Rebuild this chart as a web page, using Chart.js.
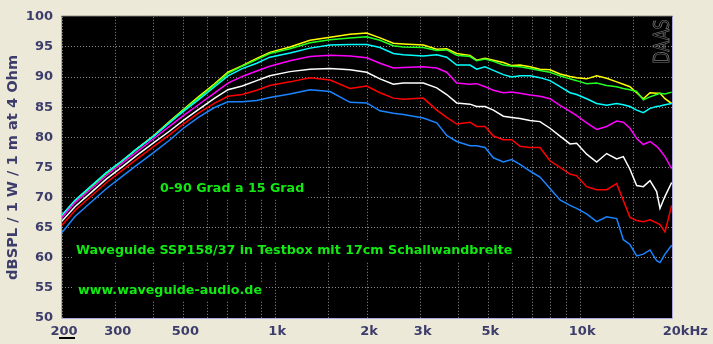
<!DOCTYPE html>
<html>
<head>
<meta charset="utf-8">
<script src="https://cdn.jsdelivr.net/npm/chart.js@4.4.1/dist/chart.umd.min.js"></script>
<style>
  html, body { margin: 0; padding: 0; background: #ece9d8; }
  #wrap { width: 713px; height: 344px; }
  canvas { display: block; }
</style>
</head>
<body>
<div id="wrap"><canvas id="c" width="713" height="344"></canvas></div>
<script>
// ---------- data ----------
const freqs = [200,221,250,280,315,350,400,450,500,560,630,700,780,870,960,
  1118,1301,1513,1759,1995,2206,2440,2630,3060,3386,3650,3937,4352,
  4577,4875,5193,5598,5964,6348,6845,7381,7962,8588,9261,9737,10502,11325,12213,13172,13850,14562,15316,16107,16942,17812,18266,18970,19950];

const deg0 = [67.0,69.5,71.9,74.1,76.1,78.0,80.3,82.6,84.6,86.7,88.8,90.8,91.9,93.1,94.1,
  95.0,96.1,96.6,97.1,97.3,96.5,95.6,95.5,95.3,94.6,94.7,93.9,93.6,
  92.8,93.1,92.8,92.4,91.9,92.0,91.7,91.3,91.2,90.5,90.1,89.9,89.7,90.2,89.8,89.2,88.8,88.4,87.4,86.4,87.4,87.3,87.3,86.4,85.6];
const deg15 = [66.8,69.3,71.8,74.0,76.0,77.9,80.2,82.5,84.5,86.5,88.6,90.6,91.8,92.9,93.9,
  94.7,95.7,96.2,96.5,96.7,96.1,95.2,95.0,94.9,94.4,94.5,93.6,93.4,
  92.7,93.0,92.6,92.0,91.8,91.7,91.4,91.1,90.8,90.2,89.7,89.4,88.9,89.0,88.6,88.4,88.1,87.9,87.6,86.2,86.7,87.1,87.3,87.2,87.5];
const deg30 = [67.1,69.6,72.0,74.2,76.1,78.0,80.2,82.4,84.3,86.2,88.3,90.2,91.4,92.3,93.3,
  94.0,94.8,95.3,95.4,95.4,94.9,93.9,93.7,93.5,93.7,93.3,92.0,92.0,
  91.3,91.7,91.1,90.4,90.0,90.2,90.2,89.9,89.4,88.4,87.4,87.1,86.4,85.6,85.3,85.6,85.4,85.1,84.5,84.1,84.8,85.1,85.2,85.4,85.6];
const deg45 = [66.7,69.2,71.5,73.7,75.7,77.5,79.8,81.8,83.6,85.4,87.3,89.0,90.1,91.0,91.8,
  92.7,93.4,93.6,93.5,93.2,92.3,91.5,91.6,91.7,91.5,90.8,89.0,88.8,
  88.9,88.4,87.8,87.4,87.5,87.3,87.0,86.8,86.4,85.3,84.3,83.6,82.4,81.3,81.8,82.7,82.5,81.5,79.8,78.8,79.3,78.5,77.9,76.8,74.8];
const deg60 = [66.1,68.5,70.9,73.1,75.1,76.9,79.1,81.0,82.8,84.6,86.4,87.9,88.5,89.4,90.2,
  90.9,91.3,91.4,91.2,90.8,89.7,88.8,89.0,89.0,88.2,87.1,85.7,85.5,
  85.1,85.1,84.5,83.5,83.3,83.1,82.8,82.6,81.5,80.2,78.9,79.0,77.2,75.9,77.3,76.4,76.8,74.7,72.0,71.8,72.8,71.0,68.2,70.2,72.5];
const deg75 = [65.4,67.9,70.3,72.5,74.5,76.3,78.5,80.4,82.2,84.0,85.6,86.8,87.1,87.8,88.6,
  89.2,89.9,89.5,88.1,88.5,87.4,86.5,86.3,86.5,84.5,83.3,82.2,82.5,
  81.8,81.8,80.2,79.6,79.6,78.5,78.3,78.3,76.1,75.0,73.9,73.6,71.8,71.3,71.3,72.3,69.5,66.7,66.2,66.0,66.3,65.8,65.5,64.3,68.7];
const deg90 = [64.2,66.9,69.3,71.5,73.5,75.3,77.5,79.5,81.5,83.3,84.9,85.9,85.9,86.1,86.6,
  87.2,87.9,87.6,85.8,85.7,84.4,84.0,83.8,83.2,82.4,80.3,79.3,78.6,
  78.6,78.3,76.6,75.9,76.3,75.5,74.4,73.4,71.5,69.6,68.7,68.2,67.3,66.0,66.8,66.5,63.0,62.2,60.3,60.6,61.3,59.5,59.2,60.6,62.1];

const seriesNames = ['0 Grad','15 Grad','30 Grad','45 Grad','60 Grad','75 Grad','90 Grad'];
const xGridValues = [200,300,400,500,600,700,800,900,1000,1500,2000,3000,4000,5000,6000,7000,8000,9000,10000,15000,20000];
const xLabelValues = [200,300,500,1000,2000,3000,5000,10000,20000];
const xLabelTexts = ['200','300','500','1k','2k','3k','5k','10k','20kHz'];
const yTitle = 'dBSPL / 1 W / 1 m at 4 Ohm';
const notes = ['0-90 Grad a 15 Grad', 'Waveguide SSP158/37 in Testbox mit 17cm Schallwandbreite', 'www.waveguide-audio.de'];
const watermark = 'DAAS';

// ---------- styling ----------
const txtColor = '#3d3d6b';
const lineColors = ['#ffff00','#22ff22','#00ffff','#ff00ff','#ffffff','#ff0000','#1a85ff'];
const values = [deg0, deg15, deg30, deg45, deg60, deg75, deg90];

const datasets = values.map((arr, i) => ({
  label: seriesNames[i],
  data: freqs.map((f, k) => ({x: f, y: arr[k]})),
  borderColor: lineColors[i],
  borderWidth: 1.5,
  pointRadius: 0,
  tension: 0,
  fill: false
})).reverse();

const bgPlugin = {
  id: 'bg',
  beforeDraw(chart) {
    const {ctx, chartArea: a} = chart;
    ctx.save();
    ctx.fillStyle = '#ece9d8';
    ctx.fillRect(0, 0, chart.width, chart.height);
    ctx.fillStyle = '#000000';
    ctx.fillRect(a.left, a.top, a.right - a.left, a.bottom - a.top);
    ctx.restore();
  },
  beforeDatasetsDraw(chart) {
    const {ctx} = chart;
    ctx.save();
    ctx.font = 'bold 12.7px "DejaVu Sans"';
    ctx.textBaseline = 'middle';
    const spots = [[160, 189], [76, 251], [78, 291]];
    notes.forEach((t, i) => {
      const w = ctx.measureText(t).width;
      const [x, y] = spots[i];
      ctx.fillStyle = '#000000';
      ctx.fillRect(x - 4, y - 9, w + 8, 19);
      ctx.fillStyle = '#12e812';
      ctx.fillText(t, x, y);
    });
    ctx.restore();
  },
  afterDraw(chart) {
    const {ctx, chartArea: a} = chart;
    ctx.save();
    // frame
    ctx.lineWidth = 1;
    ctx.strokeStyle = '#a8a8dc';
    ctx.beginPath();
    ctx.moveTo(a.left - 0.5, a.top - 0.5);
    ctx.lineTo(a.left - 0.5, a.bottom + 0.5);
    ctx.lineTo(a.right + 0.5, a.bottom + 0.5);
    ctx.lineTo(a.right + 0.5, a.top - 0.5);
    ctx.stroke();
    ctx.strokeStyle = '#202020';
    ctx.beginPath();
    ctx.moveTo(a.left - 0.5, a.top - 0.5);
    ctx.lineTo(a.right + 0.5, a.top - 0.5);
    ctx.stroke();
    // watermark
    ctx.translate(a.right - 3, a.top + 47);
    ctx.rotate(-Math.PI / 2);
    ctx.scale(1, 1.37);
    ctx.font = '16px "DejaVu Sans"';
    ctx.textBaseline = 'alphabetic';
    ctx.strokeStyle = '#7c7c7c';
    ctx.lineWidth = 0.55;
    ctx.strokeText(watermark, 0, 0);
    ctx.restore();
    // marker under the first x label
    const xs = chart.scales.x;
    const px = xs.getPixelForValue(200);
    ctx.save();
    ctx.fillStyle = '#000000';
    ctx.fillRect(px - 3, 337, 16, 2);
    ctx.restore();
  }
};

const ctx = document.getElementById('c').getContext('2d');
new Chart(ctx, {
  type: 'line',
  data: { datasets },
  options: {
    responsive: false,
    animation: false,
    devicePixelRatio: 1,
    layout: { padding: { left: 0, top: 12, right: 41, bottom: 0 } },
    plugins: { legend: { display: false }, tooltip: { enabled: false } },
    scales: {
      x: {
        type: 'logarithmic',
        min: 200, max: 20000,
        afterBuildTicks: s => { s.ticks = xGridValues.map(v => ({ value: v })); },
        afterFit: s => { s.height = 26; },
        grid: { color: '#8c8c8c', lineWidth: 1, drawTicks: false },
        border: { display: false, dash: [1, 2] },
        ticks: {
          autoSkip: false, maxRotation: 0, minRotation: 0, padding: 6, labelOffset: 2,
          color: txtColor,
          font: { family: 'DejaVu Sans', size: 13, weight: 'bold' },
          callback: v => {
            const i = xLabelValues.indexOf(v);
            if (i < 0) return '';
            return i === xLabelTexts.length - 1 ? '     ' + xLabelTexts[i] : xLabelTexts[i];
          }
        }
      },
      y: {
        type: 'linear',
        min: 50, max: 100,
        afterFit: s => { s.width = 62; },
        grid: { color: '#8c8c8c', lineWidth: 1, drawTicks: false },
        border: { display: false, dash: [1, 2] },
        ticks: {
          stepSize: 5, padding: 9, color: txtColor,
          font: { family: 'DejaVu Sans', size: 13, weight: 'bold' }
        },
        title: {
          display: true, text: yTitle, color: txtColor,
          font: { family: 'DejaVu Sans', size: 14.6, weight: 'bold' },
          padding: { top: 4, bottom: 0 }
        }
      }
    }
  },
  plugins: [bgPlugin]
});
</script>
</body>
</html>
